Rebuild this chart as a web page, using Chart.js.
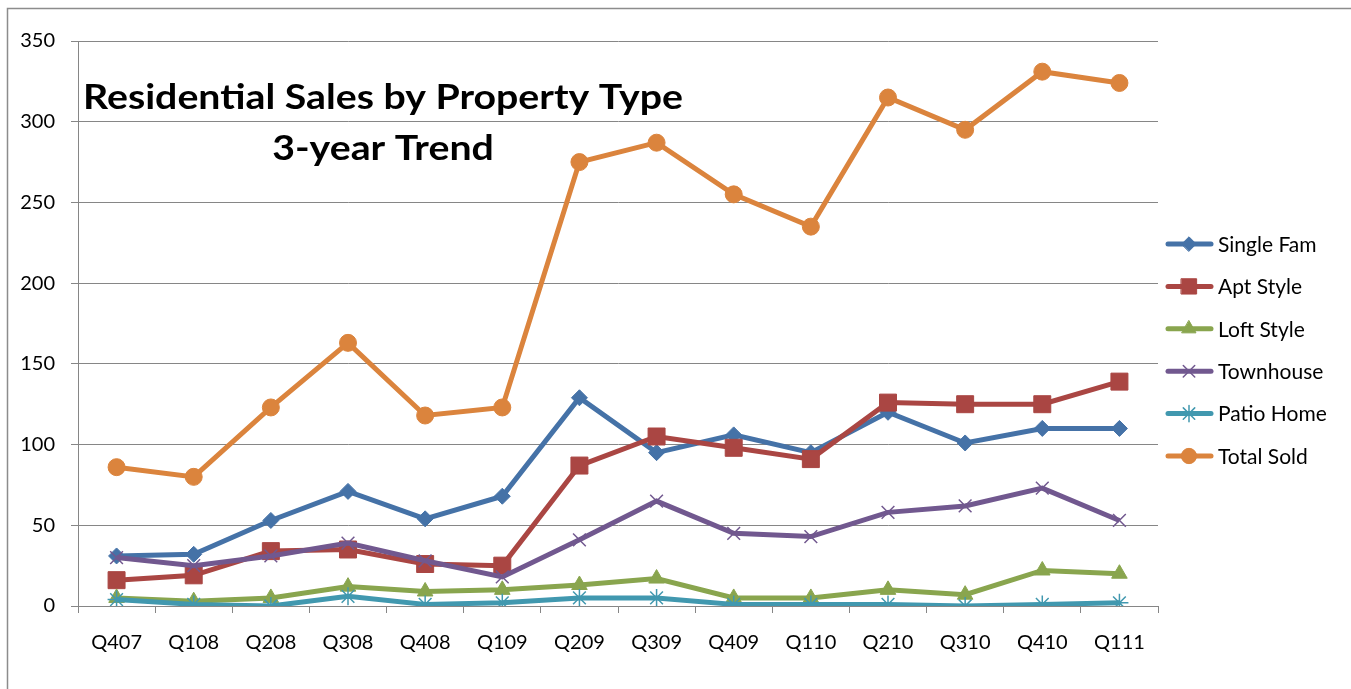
<!DOCTYPE html>
<html>
<head>
<meta charset="utf-8">
<script src="https://cdn.jsdelivr.net/npm/chart.js@4.4.1/dist/chart.umd.min.js"></script>
<style>
  html, body { margin: 0; padding: 0; background: #fff; }
  #wrap { width: 1351px; height: 689px; position: relative; }
</style>
</head>
<body>
<div id="wrap"><canvas id="canvas"></canvas></div>
<script>
const quarters = ["Q407", "Q108", "Q208", "Q308", "Q408", "Q109", "Q209",
    "Q309", "Q409", "Q110", "Q210", "Q310", "Q410", "Q111"];

const singleFam = [31, 32, 53, 71, 54, 68, 129, 95, 106, 95, 120, 101, 110, 110];
const aptStyle = [16, 19, 34, 35, 26, 25, 87, 105, 98, 91, 126, 125, 125, 139];
const loftStyle = [5, 3, 5, 12, 9, 10, 13, 17, 5, 5, 10, 7, 22, 20];
const townhouse = [30, 25, 31, 39, 28, 18, 41, 65, 45, 43, 58, 62, 73, 53];
const patioHome = [4, 1, 0, 6, 1, 2, 5, 5, 1, 1, 1, 0, 1, 2];
const totalSold = [86, 80, 123, 163, 118, 123, 275, 287, 255, 235, 315, 295, 331, 324];

const seriesNames = ["Single Fam", "Apt Style", "Loft Style", "Townhouse", "Patio Home", "Total Sold"];
const seriesData = [singleFam, aptStyle, loftStyle, townhouse, patioHome, totalSold];
const seriesColors = ["#4572A7", "#AA4643", "#89A54E", "#71588F", "#4198AF", "#DB843D"];
const seriesMarkers = ["rectRot", "rect", "triangle", "crossRot", "star", "circle"];
const markerSizes = [8, 12, 9, 9, 9, 8.5];

const titleLines = ["Residential Sales by Property Type", "3-year Trend"];

const FONT = "Lato, 'Open Sans', sans-serif";

let datasets = seriesNames.map(function (name, i) {
    let stroked = seriesMarkers[i] === "crossRot" || seriesMarkers[i] === "star";
    return {
        label: name,
        data: seriesData[i],
        borderColor: seriesColors[i],
        backgroundColor: seriesColors[i],
        borderWidth: 5,
        pointStyle: seriesMarkers[i],
        pointRadius: markerSizes[i],
        pointHoverRadius: markerSizes[i],
        pointBorderWidth: stroked ? 1.5 : 1,
        tension: 0,
        order: seriesNames.length - i
    };
});

// outer frame + title inside the plot
const decorPlugin = {
    id: "decor",
    beforeDraw: function (chart) {
        let ctx = chart.ctx;
        ctx.save();
        ctx.strokeStyle = "#8c8c8c";
        ctx.lineWidth = 1.5;
        ctx.strokeRect(7.5, 8.5, 1500, 900);
        ctx.restore();
    },
    afterDatasetsDraw: function (chart) {
        let ctx = chart.ctx;
        ctx.save();
        ctx.fillStyle = "#000";
        ctx.textAlign = "center";
        ctx.textBaseline = "middle";
        ctx.font = "bold 34px " + FONT;
        // stretch a bit so it spans the same width as the original
        let sx = 600 / ctx.measureText(titleLines[0]).width;
        ctx.translate(383, 0);
        ctx.scale(sx, 1);
        ctx.fillText(titleLines[0], 0, 98);
        ctx.fillText(titleLines[1], 0, 149);
        ctx.restore();
    }
};

// Excel-style legend: line segment with marker, to the right
const legendPlugin = {
    id: "sideLegend",
    afterDraw: function (chart) {
        let ctx = chart.ctx;
        ctx.save();
        chart.data.datasets.forEach(function (ds, i) {
            let y = 244 + i * 42.4;
            ctx.strokeStyle = ds.borderColor;
            ctx.lineWidth = 5;
            ctx.lineCap = "round";
            ctx.beginPath();
            ctx.moveTo(1168, y);
            ctx.lineTo(1211, y);
            ctx.stroke();
            ctx.fillStyle = ds.backgroundColor;
            ctx.lineWidth = ds.pointBorderWidth;
            Chart.helpers.drawPoint(ctx, {
                pointStyle: ds.pointStyle,
                radius: ds.pointRadius * 0.9,
                rotation: 0,
                borderWidth: ds.pointBorderWidth
            }, 1189, y);
            ctx.fillStyle = "#000";
            ctx.font = "21px " + FONT;
            ctx.textAlign = "left";
            ctx.textBaseline = "middle";
            ctx.fillText(ds.label, 1218, y + 1);
        });
        ctx.restore();
    }
};

let ctx = document.getElementById("canvas").getContext("2d");
let myChart = new Chart(ctx, {
    type: "line",
    data: {
        labels: quarters,
        datasets: datasets
    },
    options: {
        responsive: true,
        maintainAspectRatio: false,
        animation: false,
        layout: {
            padding: { left: 0, right: 193, top: 41, bottom: 0 }
        },
        plugins: {
            legend: { display: false },
            tooltip: { enabled: false }
        },
        scales: {
            x: {
                offset: true,
                grid: {
                    offset: true,
                    drawOnChartArea: false,
                    drawTicks: true,
                    tickLength: 7,
                    color: "#868686"
                },
                border: { color: "#868686", width: 1 },
                ticks: {
                    color: "#000",
                    font: { family: FONT, size: 20 },
                    padding: 18,
                    maxRotation: 0,
                    autoSkip: false
                },
                afterFit: function (scale) { scale.height = 83; }
            },
            y: {
                min: 0,
                max: 350,
                grid: {
                    color: "#868686",
                    tickLength: 7
                },
                border: { color: "#868686", width: 1 },
                ticks: {
                    stepSize: 50,
                    color: "#000",
                    font: { family: FONT, size: 20 },
                    padding: 16
                },
                afterFit: function (scale) { scale.width = 78; }
            }
        }
    },
    plugins: [decorPlugin, legendPlugin]
});
</script>
</body>
</html>
